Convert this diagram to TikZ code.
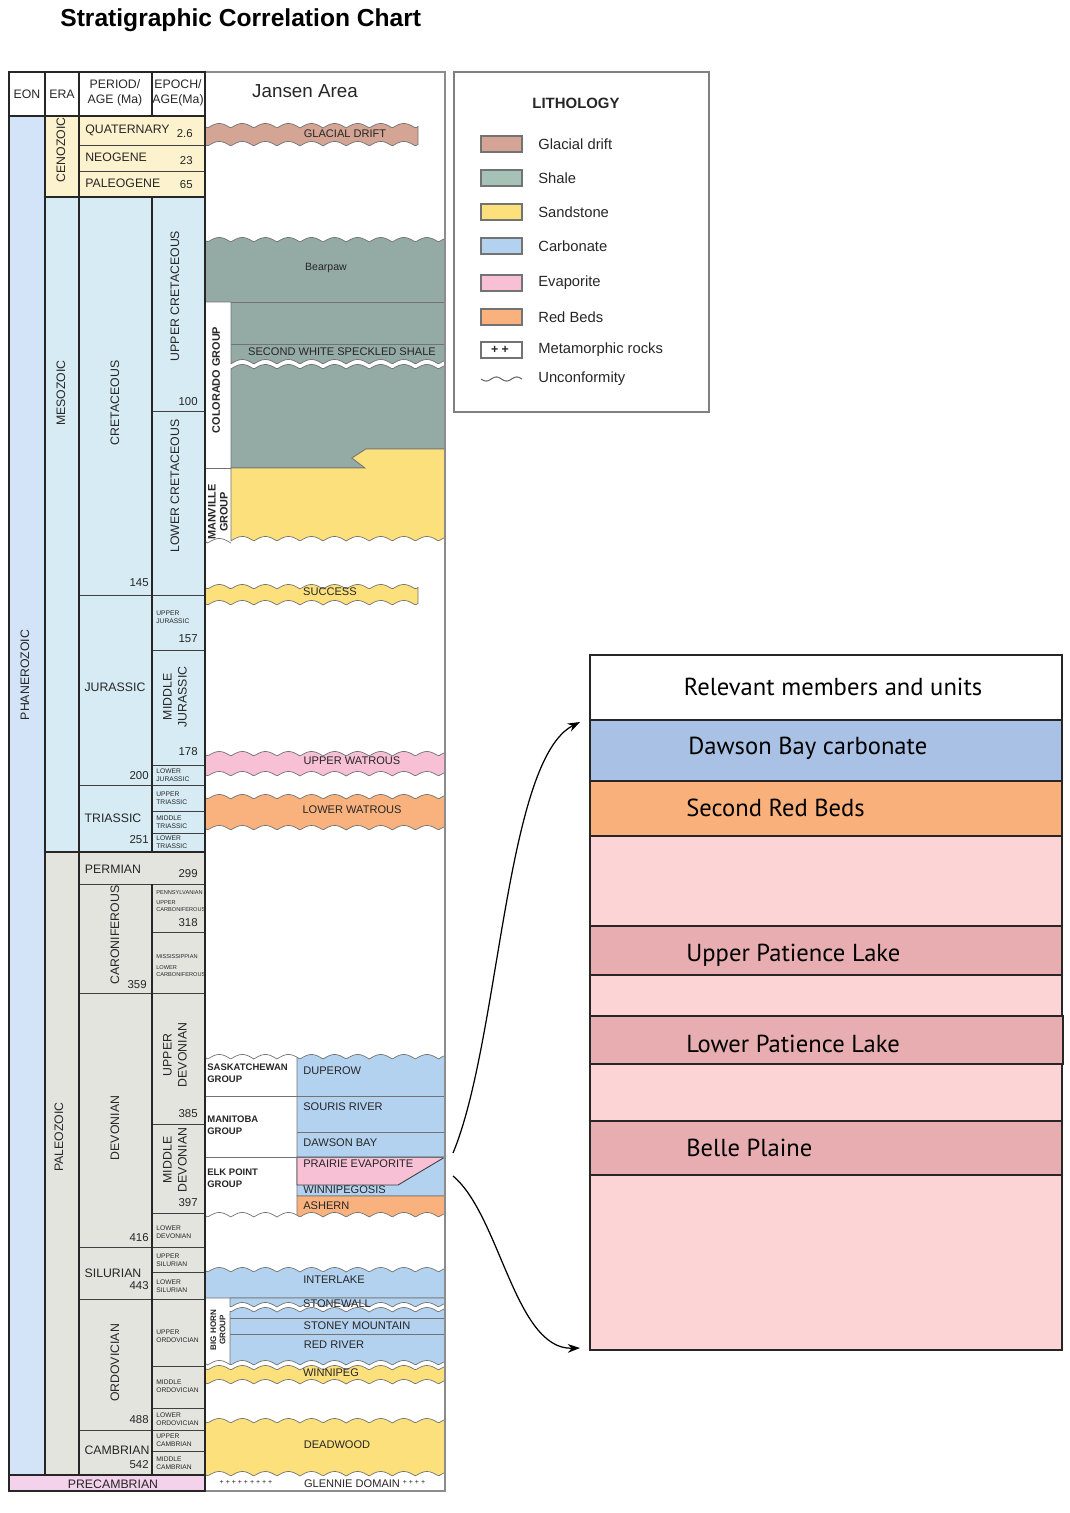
\documentclass[tikz,border=0pt]{standalone}
\usepackage{fontspec}
\setmainfont{Liberation Sans}
\newfontfamily\myriad{PT Sans}
\usetikzlibrary{arrows.meta}

\definecolor{driftc}{HTML}{D4A594}
\definecolor{shalec}{HTML}{94AAA4}
\definecolor{shaleL}{HTML}{A6C2B6}
\definecolor{sandc}{HTML}{FCE07C}
\definecolor{carbc}{HTML}{B3D2F0}
\definecolor{evapc}{HTML}{F8C0D4}
\definecolor{redbc}{HTML}{F9B27E}
\definecolor{eonc}{HTML}{D3E3F8}
\definecolor{cenoc}{HTML}{FDF2CE}
\definecolor{mesoc}{HTML}{D6EBF4}
\definecolor{paleoc}{HTML}{E4E4DE}
\definecolor{precc}{HTML}{F4D2EC}
\definecolor{dawsonc}{HTML}{A9C1E5}
\definecolor{salmonc}{HTML}{F9B07B}
\definecolor{pinkc}{HTML}{FDD4D6}
\definecolor{plakec}{HTML}{E7ADB0}

% scalloped unconformity, x in pixels
\pgfmathdeclarefunction{wv}{1}{\pgfmathparse{4.5*abs(sin(7.8*#1))}}
% wavy band: style, x1, x2, top, bottom
\newcommand{\band}[5]{\filldraw[#1,outl] plot[domain=#2:#3] (\x,{#4-wv(\x)}) -- plot[domain=#3:#2] (\x,{#5-wv(\x)}) -- cycle;}

\begin{document}
\begin{tikzpicture}[x=0.02cm,y=-0.02cm,samples=120]
\tikzstyle{txt}=[inner sep=0pt,text=black!85,font=\fontsize{7}{8.5}\selectfont]
\tikzstyle{rot}=[txt,rotate=90,align=center]
\tikzstyle{num}=[txt,anchor=east,font=\fontsize{6.5}{7}\selectfont]
\tikzstyle{ep}=[txt,anchor=west,align=left,font=\fontsize{3.8}{4.3}\selectfont]
\tikzstyle{lay}=[txt,font=\fontsize{6.3}{7}\selectfont]
\tikzstyle{grp}=[txt,align=left,font=\bfseries\fontsize{5.4}{6.6}\selectfont]
\tikzstyle{tab}=[draw=black!85,line width=0.8pt]
\tikzstyle{sub}=[draw=black!75,line width=0.5pt]
\tikzstyle{outl}=[draw=black!55,line width=0.4pt]
\tikzstyle{drift}=[fill=driftc]
\tikzstyle{shale}=[fill=shalec]
\tikzstyle{sand}=[fill=sandc]
\tikzstyle{carb}=[fill=carbc]
\tikzstyle{evap}=[fill=evapc]
\tikzstyle{redb}=[fill=redbc]
\tikzstyle{mbr}=[draw=black!85,line width=0.9pt]
\tikzstyle{mtxt}=[inner sep=0pt,anchor=west,font=\myriad\fontsize{14}{16}\selectfont]
\useasboundingbox (0,0) rectangle (1070,1513);

\node[anchor=west,inner sep=0pt,font=\bfseries\fontsize{14}{16}\selectfont] (title) at (60,20) {Stratigraphic Correlation Chart};

% time scale
\fill[eonc] (9,116) rectangle (45,1475);
\fill[cenoc] (45,116) rectangle (205,197);
\fill[mesoc] (45,197) rectangle (205,852);
\fill[paleoc] (45,852) rectangle (205,1475);
\fill[precc] (9,1475) rectangle (205,1491);
\draw[sub] (79,145) -- (205,145) (79,171) -- (205,171);
\foreach \y in {595,785,884,993,1247,1299,1430} \draw[sub] (79,\y) -- (205,\y);
\foreach \y in {411,650,765,811,833,932,1124,1213,1272,1366,1408,1451} \draw[sub] (152,\y) -- (205,\y);
\draw[tab] (9,116) -- (205,116) (45,72) -- (45,1475) (79,72) -- (79,1475)
  (152,72) -- (152,116) (152,197) -- (152,852) (152,884) -- (152,1475)
  (9,1475) -- (205,1475) (45,197) -- (205,197) (45,852) -- (205,852);

\node[txt] (eon) at (27,94) {EON};
\node[txt] (era) at (62,94) {ERA};
\node[txt,align=center] (per) at (115,93) {PERIOD/\\AGE (Ma)};
\node[txt,align=center] (epo) at (178,93) {EPOCH/\\AGE(Ma)};

\node[rot] (phan) at (25,675) {PHANEROZOIC};
\node[rot] (ceno) at (61,150) {CENOZOIC};
\node[rot] (meso) at (61,393) {MESOZOIC};
\node[rot] (paleo) at (59,1137) {PALEOZOIC};
\node[txt] (prec) at (113,1484) {PRECAMBRIAN};

\node[txt,anchor=west] (qua) at (85,130) {QUATERNARY};
\node[txt,anchor=west] (neo) at (85,157) {NEOGENE};
\node[txt,anchor=west] (pal) at (85,183) {PALEOGENE};
\node[rot] (cret) at (115,403) {CRETACEOUS};
\node[rot] (ucret) at (175,296) {UPPER CRETACEOUS};
\node[rot] (lcret) at (175,486) {LOWER CRETACEOUS};
\node[txt] (jur) at (115,687) {JURASSIC};
\node[rot] (mjur) at (175,697) {MIDDLE\\JURASSIC};
\node[txt] (tri) at (113,818) {TRIASSIC};
\node[txt] (perm) at (113,869) {PERMIAN};
\node[rot] (carbn) at (115,935) {CARONIFEROUS};
\node[rot] (dev) at (115,1128) {DEVONIAN};
\node[rot] (udev) at (175,1055) {UPPER\\DEVONIAN};
\node[rot] (mdev) at (175,1160) {MIDDLE\\DEVONIAN};
\node[txt] (sil) at (113,1273) {SILURIAN};
\node[rot] (ord) at (115,1363) {ORDOVICIAN};
\node[txt] (cam) at (117,1450) {CAMBRIAN};

\node[num] (n1) at (193,134) {2.6};
\node[num] (n2) at (193,161) {23};
\node[num] (n3) at (193,185) {65};
\node[num] (n4) at (149,583) {145};
\node[num] (n5) at (198,402) {100};
\node[num] (n6) at (198,639) {157};
\node[num] (n7) at (198,752) {178};
\node[num] (n8) at (149,776) {200};
\node[num] (n9) at (149,840) {251};
\node[num] (n10) at (198,874) {299};
\node[num] (n11) at (198,923) {318};
\node[num] (n12) at (147,985) {359};
\node[num] (n13) at (198,1114) {385};
\node[num] (n14) at (198,1203) {397};
\node[num] (n15) at (149,1238) {416};
\node[num] (n16) at (149,1286) {443};
\node[num] (n17) at (149,1420) {488};
\node[num] (n18) at (149,1465) {542};

\node[ep] (e1) at (156,617) {UPPER\\JURASSIC};
\node[ep] (e2) at (156,775) {LOWER\\JURASSIC};
\node[ep] (e3) at (156,798) {UPPER\\TRIASSIC};
\node[ep] (e4) at (156,822) {MIDDLE\\TRIASSIC};
\node[ep] (e5) at (156,842) {LOWER\\TRIASSIC};
\node[ep,font=\fontsize{3.2}{4}\selectfont] (e6) at (156,893) {PENNSYLVANIAN};
\node[ep,font=\fontsize{3.2}{4}\selectfont] (e7) at (156,906) {UPPER\\CARBONIFEROUS};
\node[ep,font=\fontsize{3.2}{4}\selectfont] (e8) at (156,957) {MISSISSIPPIAN};
\node[ep,font=\fontsize{3.2}{4}\selectfont] (e9) at (156,971) {LOWER\\CARBONIFEROUS};
\node[ep] (e10) at (156,1232) {LOWER\\DEVONIAN};
\node[ep] (e11) at (156,1260) {UPPER\\SILURIAN};
\node[ep] (e12) at (156,1286) {LOWER\\SILURIAN};
\node[ep] (e13) at (156,1336) {UPPER\\ORDOVICIAN};
\node[ep] (e14) at (156,1386) {MIDDLE\\ORDOVICIAN};
\node[ep] (e15) at (156,1419) {LOWER\\ORDOVICIAN};
\node[ep] (e16) at (156,1440) {UPPER\\CAMBRIAN};
\node[ep] (e17) at (156,1463) {MIDDLE\\CAMBRIAN};

% Jansen area column
\band{drift}{205}{418}{128}{146}
\filldraw[shale,outl] plot[domain=205:445] (\x,{242-wv(\x)}) -- (445,360) -- plot[domain=445:231] (\x,{364-wv(\x)}) -- (231,302) -- (205,302) -- cycle;
\filldraw[shale,outl] plot[domain=231:445] (\x,{369-wv(\x)}) -- (445,449) -- (366,449) -- (352,458) -- (365,468) -- (231,468) -- cycle;
\filldraw[sand,outl] (231,468) -- (365,468) -- (352,458) -- (366,449) -- (445,449) -- plot[domain=445:231] (\x,{541-wv(\x)}) -- cycle;
\draw[outl] plot[domain=205:231] (\x,{543-wv(\x)});
\draw[outl] (231,302) -- (445,302) (231,344) -- (445,344) (205,468) -- (231,468);
\band{sand}{205}{418}{589}{605}
\band{evap}{205}{445}{756}{776}
\band{redb}{205}{445}{799}{830}

\filldraw[carb,outl] plot[domain=297:445] (\x,{1059-wv(\x)}) -- (445,1196) -- (297,1196) -- cycle;
\draw[outl] plot[domain=205:297] (\x,{1059-wv(\x)});
\filldraw[redb,outl] (297,1196) -- (445,1196) -- plot[domain=445:297] (\x,{1217-wv(\x)}) -- cycle;
\draw[outl] plot[domain=205:297] (\x,{1217-wv(\x)});
\filldraw[evap,draw=black!75,line width=0.5pt] (297,1157) -- (445,1157) -- (398,1185) -- (297,1185) -- cycle;
\draw[outl] (205,1096) -- (445,1096) (297,1132) -- (445,1132) (205,1157) -- (445,1157);

\filldraw[carb,outl] plot[domain=205:445] (\x,{1272-wv(\x)}) -- (445,1298) -- (205,1298) -- cycle;
\filldraw[carb,outl] (230,1298) -- (445,1298) -- plot[domain=445:230] (\x,{1307-wv(\x)}) -- cycle;
\filldraw[carb,outl] plot[domain=230:445] (\x,{1312-wv(\x)}) -- plot[domain=445:230] (\x,{1365-wv(\x)}) -- cycle;
\draw[outl] (230,1318) -- (445,1318) (230,1334) -- (445,1334);
\draw[outl] plot[domain=205:230] (\x,{1365-wv(\x)});
\band{sand}{205}{445}{1370}{1384}
\band{sand}{205}{445}{1423}{1476}

\draw[black!45,line width=0.6pt] (205,72) -- (445,72) -- (445,1491) -- (205,1491);
\draw[tab] (9,72) rectangle (205,1491);

\node[txt,font=\fontsize{10.7}{12}\selectfont] (jan) at (305,91) {Jansen Area};
\node[lay] (gd) at (345,134) {GLACIAL DRIFT};
\node[lay,font=\fontsize{6}{7}\selectfont] (bp) at (326,268) {Bearpaw};
\node[lay] (sws) at (342,352) {SECOND WHITE SPECKLED SHALE};
\node[lay] (suc) at (330,592) {SUCCESS};
\node[lay] (uw) at (352,761) {UPPER WATROUS};
\node[lay] (lw) at (352,810) {LOWER WATROUS};
\node[lay,anchor=west] (dup) at (303,1071) {DUPEROW};
\node[lay,anchor=west] (sr) at (303,1107) {SOURIS RIVER};
\node[lay,anchor=west] (db) at (303,1143) {DAWSON BAY};
\node[lay,anchor=west] (pe) at (303,1164) {PRAIRIE EVAPORITE};
\node[lay,anchor=west] (wg) at (303,1190) {WINNIPEGOSIS};
\node[lay,anchor=west] (ash) at (303,1206) {ASHERN};
\node[lay] (il) at (334,1280) {INTERLAKE};
\node[lay] (sw) at (337,1304) {STONEWALL};
\node[lay] (sm) at (357,1326) {STONEY MOUNTAIN};
\node[lay] (rr) at (334,1345) {RED RIVER};
\node[lay] (wp) at (331,1373) {WINNIPEG};
\node[lay] (dw) at (337,1445) {DEADWOOD};
\node[lay] (gl) at (352,1484) {GLENNIE DOMAIN};
\node[lay,font=\fontsize{4}{5}\selectfont] (x1) at (246,1482) {+ + + + + + + + +};
\node[lay,font=\fontsize{4}{5}\selectfont] (x2) at (414,1482) {+ + + +};

\node[grp,anchor=west] (sask) at (207,1073) {SASKATCHEWAN\\GROUP};
\node[grp,anchor=west] (mani) at (207,1125) {MANITOBA\\GROUP};
\node[grp,anchor=west] (elk) at (207,1178) {ELK POINT\\GROUP};
\node[grp,rotate=90,font=\bfseries\fontsize{6.2}{7}\selectfont] (colo) at (216,380) {COLORADO GROUP};
\node[grp,rotate=90,align=center,font=\bfseries\fontsize{6.2}{6.8}\selectfont] (manv) at (218,512) {MANVILLE\\GROUP};
\node[grp,rotate=90,align=center,font=\bfseries\fontsize{4.6}{5.2}\selectfont] (bigh) at (218,1330) {BIG HORN\\GROUP};

% legend
\draw[black!50,line width=0.8pt] (454,72) rectangle (709,412);
\node[txt,font=\bfseries\fontsize{8.5}{10}\selectfont] (lith) at (576,103) {LITHOLOGY};
\foreach \c/\t/\y [count=\i] in {driftc/Glacial drift/144,shaleL/Shale/178,sandc/Sandstone/212,carbc/Carbonate/246,evapc/Evaporite/283,redbc/Red Beds/317} {
  \filldraw[fill=\c,draw=black!55,line width=0.6pt] (481,\y-8) rectangle (522,\y+8);
  \node[txt,anchor=west,font=\fontsize{8.4}{10}\selectfont] (leg\i) at (538,\y) {\t};
}
\draw[black!55,line width=0.6pt] (481,342) rectangle (522,358);
\node[txt,font=\bfseries\fontsize{7}{8}\selectfont] (plus) at (500,350) {+ +};
\node[txt,anchor=west,font=\fontsize{8.4}{10}\selectfont] (leg7) at (538,350) {Metamorphic rocks};
\draw[black!60,line width=0.6pt] plot[domain=481:522] (\x,{379+2*sin(17.6*(\x-481))});
\node[txt,anchor=west,font=\fontsize{8.4}{10}\selectfont] (leg8) at (538,379) {Unconformity};

% relevant members
\filldraw[mbr,fill=white] (590,655) rectangle (1062,720);
\filldraw[mbr,fill=dawsonc] (590,720) rectangle (1062,781);
\filldraw[mbr,fill=salmonc] (590,781) rectangle (1062,836);
\filldraw[mbr,fill=pinkc] (590,836) rectangle (1062,1350);
\filldraw[mbr,fill=plakec] (590,926) rectangle (1062,975);
\filldraw[mbr,fill=plakec] (590,1016) rectangle (1063,1064);
\filldraw[mbr,fill=plakec] (590,1121) rectangle (1062,1175);
\node[inner sep=0pt,font=\myriad\fontsize{14}{16}\selectfont] (head) at (833,687) {Relevant members and units};
\node[mtxt] (m1) at (688,748) {Dawson Bay carbonate};
\node[mtxt] (m2) at (686,808) {Second Red Beds};
\node[mtxt] (m3) at (686,955) {Upper Patience Lake};
\node[mtxt] (m4) at (686,1044) {Lower Patience Lake};
\node[mtxt] (m5) at (686,1148) {Belle Plaine};

\coordinate (pvTop) at (453,1153);
\coordinate (pvBot) at (453,1176);
\coordinate (hdTop) at (580,722);
\coordinate (hdBot) at (580,1348);
\draw[-{Stealth[length=7pt,width=5pt]},line width=0.7pt] (pvTop) .. controls (500,1040) and (505,760) .. (hdTop);
\draw[-{Stealth[length=7pt,width=5pt]},line width=0.7pt] (pvBot) .. controls (500,1215) and (515,1350) .. (hdBot);
\end{tikzpicture}
\end{document}
